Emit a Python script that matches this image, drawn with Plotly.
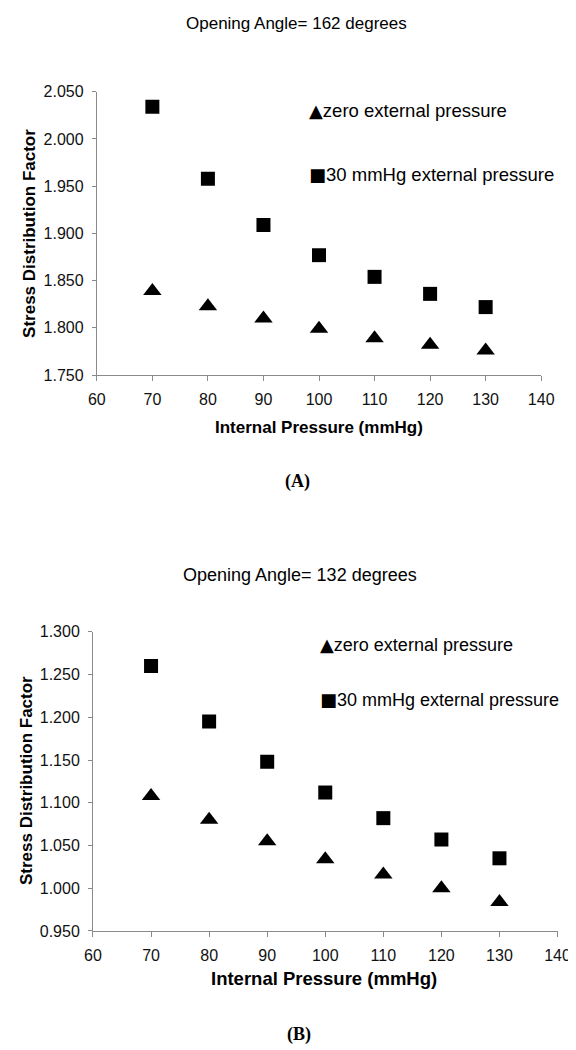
import plotly.graph_objects as go

W, H = 576, 1050

pressure = [70, 80, 90, 100, 110, 120, 130]
a_zero = [1.839, 1.823, 1.810, 1.799, 1.789, 1.782, 1.776]
a_30 = [2.034, 1.958, 1.909, 1.877, 1.854, 1.836, 1.822]
b_zero = [1.108, 1.080, 1.055, 1.034, 1.016, 1.000, 0.984]
b_30 = [1.260, 1.195, 1.148, 1.112, 1.082, 1.057, 1.035]

series_names = ["zero external pressure", "30 mmHg external pressure"]
series_glyphs = ["\u25B2", "\u25A0"]
panel_titles = ["Opening Angle= 162 degrees", "Opening Angle= 132 degrees"]
panel_labels = ["(A)", "(B)"]
x_title = "Internal Pressure (mmHg)"
y_title = "Stress Distribution Factor"

def px_x(p):
    return p / W

def px_y(p):
    return 1 - p / H

fig = go.Figure()

tri = dict(symbol="triangle-up", size=16, color="black")
sq = dict(symbol="square", size=14, color="black")

fig.add_trace(go.Scatter(x=pressure, y=a_zero, mode="markers", name=series_names[0],
                         marker=tri, xaxis="x", yaxis="y", showlegend=False))
fig.add_trace(go.Scatter(x=pressure, y=a_30, mode="markers", name=series_names[1],
                         marker=sq, xaxis="x", yaxis="y", showlegend=False))
fig.add_trace(go.Scatter(x=pressure, y=b_zero, mode="markers", name=series_names[0],
                         marker=tri, xaxis="x2", yaxis="y2", showlegend=False))
fig.add_trace(go.Scatter(x=pressure, y=b_30, mode="markers", name=series_names[1],
                         marker=sq, xaxis="x2", yaxis="y2", showlegend=False))

axcol = "#8a8a8a"
tickfont = dict(family="Liberation Sans, Arial", size=16, color="#111")
common_x = dict(range=[60, 140], dtick=10, tick0=60, showline=True, linecolor=axcol, linewidth=1,
                ticks="outside", ticklen=5, tickcolor=axcol, showgrid=False, zeroline=False,
                tickfont=tickfont, ticklabelstandoff=5)
common_y = dict(dtick=0.05, tickformat=".3f", showline=True, linecolor=axcol, linewidth=1,
                ticks="outside", ticklen=4, tickcolor=axcol, showgrid=False, zeroline=False,
                tickfont=tickfont, ticklabelstandoff=5)

fig.update_layout(
    width=W, height=H, margin=dict(l=0, r=0, t=0, b=0),
    paper_bgcolor="white", plot_bgcolor="white",
    font=dict(family="Liberation Sans, Arial", color="black"),
    xaxis=dict(domain=[px_x(83), px_x(545)], anchor="y", **common_x),
    yaxis=dict(domain=[px_y(365), px_y(77)], anchor="x", range=[1.75, 2.05], tick0=1.75, **common_y),
    xaxis2=dict(domain=[px_x(79), px_x(562)], anchor="y2", **common_x),
    yaxis2=dict(domain=[px_y(930), px_y(626)], anchor="x2", range=[0.95, 1.30], tick0=0.95, **common_y),
)

ann = []
def add_text(text, x, y, size, bold=False, family="Liberation Sans, Arial", angle=0, xanchor="center"):
    ann.append(dict(text=("<b>%s</b>" % text) if bold else text, x=px_x(x), y=px_y(y),
                    xref="paper", yref="paper", showarrow=False, xanchor=xanchor, yanchor="middle",
                    textangle=angle, font=dict(size=size, family=family, color="black")))

def legend_text(i):
    return ('<span style="font-family:DejaVu Sans;font-size:18px">%s</span>%s'
            % (series_glyphs[i], series_names[i]))

# titles
add_text(panel_titles[0], 291, 8, 17)
add_text(panel_titles[1], 294, 568, 18)
# axis titles
add_text(x_title, 314, 418, 17, bold=True)
add_text(x_title, 319, 978, 18.5, bold=True)
add_text(y_title, 13, 221, 17, bold=True, angle=-90)
add_text(y_title, 10, 777, 17, bold=True, angle=-90)
# panel labels
add_text(panel_labels[0], 292, 473, 18, bold=True, family="Liberation Serif, Times New Roman")
add_text(panel_labels[1], 293, 1035, 18, bold=True, family="Liberation Serif, Times New Roman")
# legends
add_text(legend_text(0), 302, 96, 18.5, xanchor="left")
add_text(legend_text(1), 302, 161, 18.5, xanchor="left")
add_text(legend_text(0), 313, 639, 18, xanchor="left")
add_text(legend_text(1), 313, 695, 18, xanchor="left")

fig.update_layout(annotations=ann)
fig.write_html("out.html")
